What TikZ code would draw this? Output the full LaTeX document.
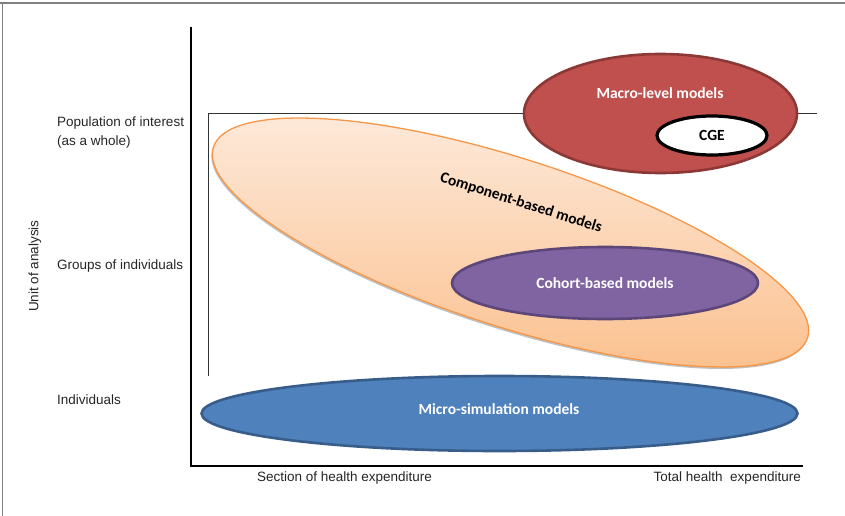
\documentclass[tikz,border=0pt]{standalone}
\usepackage{fontspec}
\setmainfont{Liberation Sans}
\newfontfamily\calibri{Carlito}
\usetikzlibrary{shapes.geometric,shadows}
\definecolor{orgB}{HTML}{F79646}
\definecolor{orgT}{HTML}{FDEBDD}
\definecolor{orgD}{HTML}{FBBF8C}
\definecolor{macF}{HTML}{C0504D}
\definecolor{macB}{HTML}{8C3836}
\definecolor{cohF}{HTML}{8064A2}
\definecolor{cohB}{HTML}{5C4778}
\definecolor{micF}{HTML}{4F81BD}
\definecolor{micB}{HTML}{385D8A}
\tikzset{
  axislabel/.style={font=\fontsize{13.5}{19}\selectfont, inner sep=0pt, text=black!85},
  modellabel/.style={font=\calibri\bfseries\fontsize{15.5}{18}\selectfont, inner sep=0pt},
  oval/.style={ellipse, inner sep=0pt, line width=2.6pt},
}
\begin{document}
\begin{tikzpicture}[x=1pt,y=-1pt]
\useasboundingbox (0,0) rectangle (845,516);
\fill[white] (0,0) rectangle (845,516);
% outer frame
\coordinate (f1) at (0,3.5);
\coordinate (f2) at (845,3.5);
\coordinate (f3) at (2.5,3.5);
\coordinate (f4) at (2.5,516);
\draw[black!50, line width=2pt] (f1) -- (f2);
\draw[black!50, line width=0.8pt] (f3) -- (f4);
% axes
\coordinate (ytop) at (191,27);
\coordinate (orig) at (191,466);
\coordinate (xend) at (803,466);
\draw[line width=1.5pt] (ytop) -- (orig) -- (xend);
% thin frame
\coordinate (r1) at (208,376);
\coordinate (r2) at (208,113.5);
\coordinate (r3) at (817,113.5);
\draw[line width=0.7pt, black!80] (r1) -- (r2) -- (r3);
% axis labels
\node[axislabel, anchor=west, align=left] (pop) at (57,132.5) {Population of interest\\(as a whole)};
\node[axislabel, anchor=west] (grp) at (57,266) {Groups of individuals};
\node[axislabel, anchor=west] (ind) at (57,400) {Individuals};
\node[axislabel, rotate=90] (unit) at (35,266) {Unit of analysis};
\node[axislabel] (sect) at (344.5,478) {Section of health expenditure};
\node[axislabel, anchor=east] (tot) at (801,478) {Total health\ \ expenditure};
% component-based ellipse
\node[ellipse, inner sep=0pt, draw=orgB, line width=1.3pt, top color=orgT, bottom color=orgD,
      minimum width=624pt, minimum height=168pt, rotate=-17.8,
      drop shadow={shadow xshift=-1pt, shadow yshift=-2pt, opacity=0.35, fill=black!70}] (comp) at (510.5,242.5) {};
\node[modellabel, rotate=-17.5] (compl) at (521,203) {Component-based models};
% cohort
\node[oval, draw=cohB, fill=cohF, minimum width=306pt, minimum height=72pt, text=white,
      font=\calibri\bfseries\fontsize{15.5}{18}\selectfont] (coh) at (605,283) {Cohort-based models};
% macro
\node[oval, draw=macB, fill=macF, minimum width=273pt, minimum height=119pt] (mac) at (660.5,113.5) {};
\node[modellabel, text=white] (macl) at (660,93) {Macro-level models};
\node[oval, draw=black, line width=3.2pt, fill=white, minimum width=110pt, minimum height=39pt,
      font=\calibri\bfseries\fontsize{15.5}{18}\selectfont] (cge) at (712,135.5) {CGE};
% micro
\node[oval, draw=micB, fill=micF, minimum width=596pt, minimum height=75pt] (mic) at (499.5,413.5) {};
\node[modellabel, text=white] (micl) at (499,409) {Micro-simulation models};
\end{tikzpicture}
\end{document}
